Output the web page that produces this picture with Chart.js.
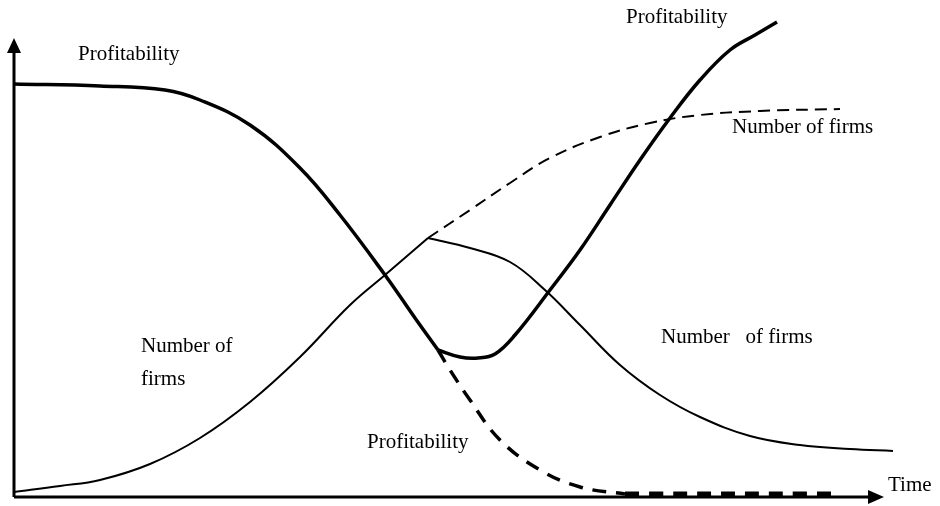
<!DOCTYPE html>
<html>
<head>
<meta charset="utf-8">
<script src="https://cdn.jsdelivr.net/npm/chart.js@4"></script>
<style>
  body { margin: 0; background: #fff; }
  #wrap { width: 940px; height: 506px; }
</style>
</head>
<body>
<div id="wrap"><canvas id="myChart" width="940" height="506"></canvas></div>
<script>
// time runs 0..870, level runs 0..459 (arbitrary units)
const profitTime = [0, 86, 151, 186, 236, 286, 326, 371, 401, 424];
const profitLevel = [413, 411, 407, 397, 372, 329, 282, 222, 179, 147];

const profitRecoverTime = [424, 446, 464, 481, 501, 536, 566, 596, 626, 656, 686, 716, 741, 763];
const profitRecoverLevel = [147, 140, 139, 143, 162, 207, 247, 292, 337, 379, 417, 447, 462, 475];

const profitFallTime = [424, 436, 456, 486, 526, 566, 611];
const profitFallLevel = [147, 127, 97, 57, 27, 10, 3];

const profitFloorTime = [611, 818];
const profitFloorLevel = [3, 3];

const firmsTime = [0, 46, 86, 136, 186, 236, 286, 336, 371, 414];
const firmsLevel = [5, 11, 17, 33, 59, 95, 140, 192, 222, 259];

const firmsShakeoutTime = [414, 456, 496, 531, 566, 606, 646, 686, 736, 786, 836, 879];
const firmsShakeoutLevel = [259, 249, 235, 207, 172, 132, 102, 80, 61, 52, 48, 46];

const firmsEntryTime = [414, 456, 496, 536, 586, 636, 686, 746, 826];
const firmsEntryLevel = [259, 287, 314, 339, 360, 374, 382, 386, 388];

// text notes placed at [time, level]
const notes = [
  ['Profitability', 64, 437],
  ['Profitability', 612, 474],
  ['Number of firms', 718, 364],
  ['Number of', 127, 145],
  ['firms', 127, 112],
  ['Profitability', 353, 49],
  ['Number\u00a0\u00a0 of firms', 647, 154],
  ['Time', 874, 6],
];

const pts = (xs, ys) => xs.map((x, i) => ({ x: x, y: ys[i] }));

const line = (data, width, dash) => ({
  data: data,
  borderColor: '#000',
  borderWidth: width,
  borderDash: dash || [],
  pointRadius: 0,
  fill: false,
  tension: 0.4,
  borderCapStyle: 'butt',
  clip: false,
});

const sketchPlugin = {
  id: 'sketch',
  beforeDatasetsDraw(chart) {
    const ctx = chart.ctx;
    const xs = chart.scales.x;
    const ys = chart.scales.y;
    const x0 = xs.getPixelForValue(0);
    const y0 = ys.getPixelForValue(0);
    const yTop = ys.getPixelForValue(ys.max);
    const xEnd = xs.getPixelForValue(xs.max);
    ctx.save();
    ctx.strokeStyle = '#000';
    ctx.fillStyle = '#000';
    ctx.lineWidth = 3;
    ctx.beginPath();
    ctx.moveTo(x0, y0);
    ctx.lineTo(x0, yTop + 12);
    ctx.moveTo(x0, y0);
    ctx.lineTo(xEnd - 12, y0);
    ctx.stroke();
    ctx.beginPath();
    ctx.moveTo(x0, yTop);
    ctx.lineTo(x0 - 7, yTop + 15);
    ctx.lineTo(x0 + 7, yTop + 15);
    ctx.closePath();
    ctx.fill();
    ctx.beginPath();
    ctx.moveTo(xEnd, y0);
    ctx.lineTo(xEnd - 16, y0 - 7);
    ctx.lineTo(xEnd - 16, y0 + 7);
    ctx.closePath();
    ctx.fill();
    ctx.restore();
  },
  afterDatasetsDraw(chart) {
    const ctx = chart.ctx;
    const xs = chart.scales.x;
    const ys = chart.scales.y;
    ctx.save();
    ctx.fillStyle = '#000';
    ctx.font = '21px "Liberation Serif", "Times New Roman", serif';
    ctx.textBaseline = 'alphabetic';
    ctx.textAlign = 'left';
    notes.forEach((n) => {
      ctx.fillText(n[0], xs.getPixelForValue(n[1]), ys.getPixelForValue(n[2]));
    });
    ctx.restore();
  },
};

const ctx = document.getElementById('myChart');

new Chart(ctx, {
  type: 'line',
  data: {
    datasets: [
      line(pts(profitTime, profitLevel), 3.5),
      line(pts(profitRecoverTime, profitRecoverLevel), 3.5),
      line(pts(profitFallTime, profitFallLevel), 3.5, [14, 10]),
      line(pts(profitFloorTime, profitFloorLevel), 5, [14, 10]),
      line(pts(firmsTime, firmsLevel), 2),
      line(pts(firmsShakeoutTime, firmsShakeoutLevel), 2),
      line(pts(firmsEntryTime, firmsEntryLevel), 2, [12, 7]),
    ],
  },
  options: {
    responsive: false,
    animation: false,
    layout: { padding: { left: 14, right: 56, top: 38, bottom: 9 } },
    plugins: {
      legend: { display: false },
      tooltip: { enabled: false },
    },
    scales: {
      x: { type: 'linear', min: 0, max: 870, display: false },
      y: { type: 'linear', min: 0, max: 459, display: false },
    },
  },
  plugins: [sketchPlugin],
});
</script>
</body>
</html>
